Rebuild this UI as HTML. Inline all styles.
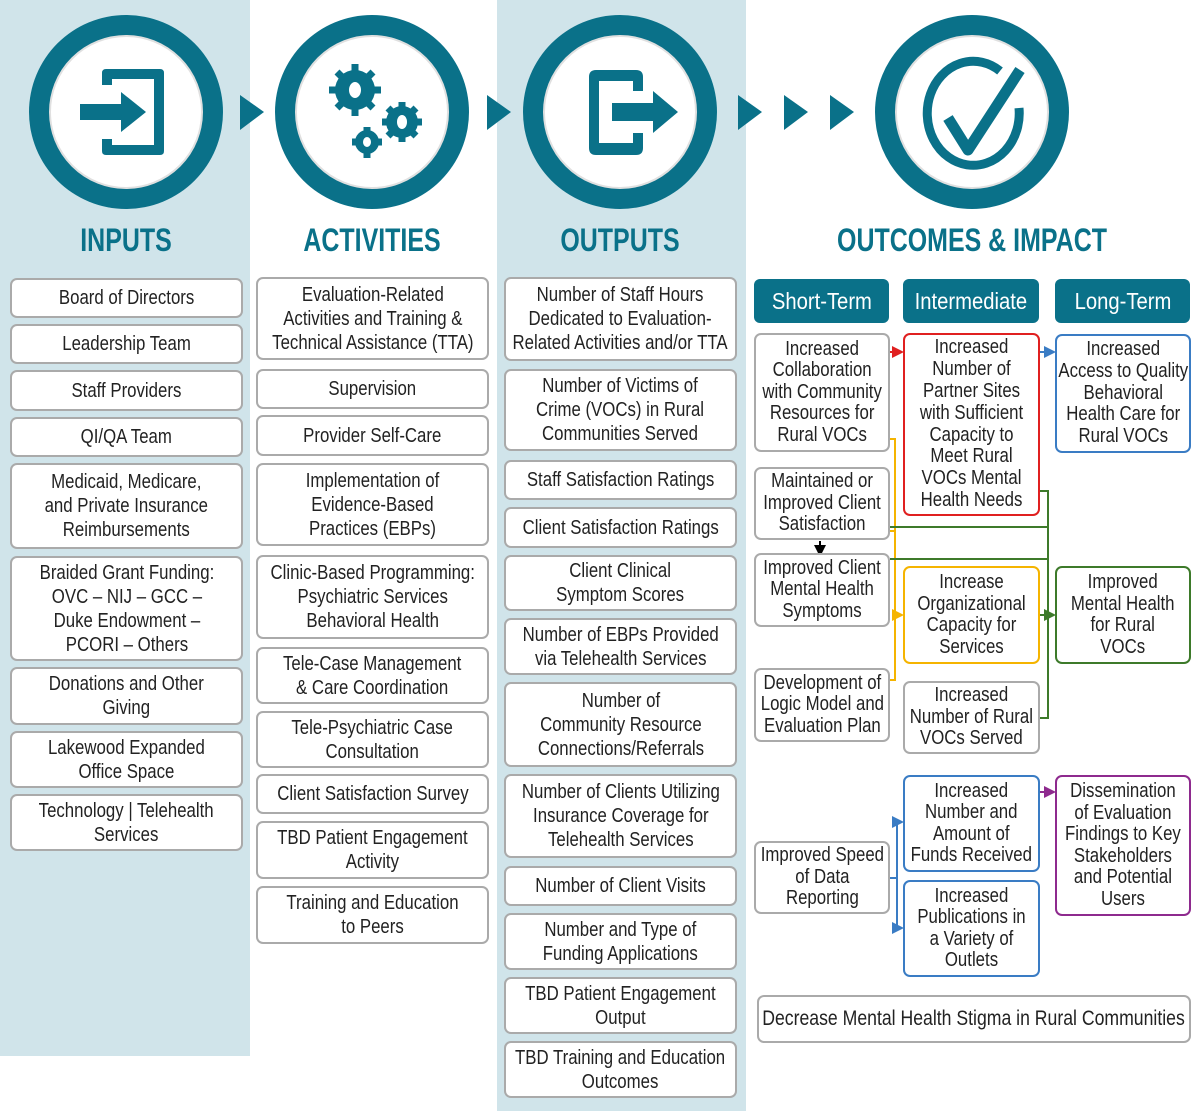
<!DOCTYPE html>
<html><head><meta charset="utf-8"><style>
*{box-sizing:border-box;margin:0;padding:0}
body{width:1200px;height:1111px;position:relative;background:#fff;overflow:hidden;font-family:"Liberation Sans",sans-serif;color:#222}
.bg{position:absolute;background:#d0e4ea}
.b{position:absolute;border:2px solid #aaa;border-radius:7px;background:#fff;display:flex;align-items:center;justify-content:center;text-align:center;font-size:20px;line-height:24px}
.b span,.h span{display:inline-block;transform:scaleX(.84);white-space:nowrap;flex-shrink:0}
.h{position:absolute;background:#0a7189;color:#fff;border-radius:6px;display:flex;align-items:center;justify-content:center;font-size:23px}
.h span{transform:scaleX(.88)}
.t{position:absolute;color:#0a7189;font-size:32px;font-weight:bold;text-align:center;top:222px;transform:scaleX(.78);white-space:nowrap}
svg{position:absolute;left:0;top:0}
</style></head><body>
<div class="bg" style="left:0;top:0;width:250px;height:1056px"></div>
<div class="bg" style="left:497px;top:0;width:249px;height:1111px"></div>

<svg width="1200" height="270">
<g fill="#0a7189">
<circle cx="126" cy="112" r="97"/><circle cx="372" cy="112" r="97"/><circle cx="620" cy="112" r="97"/><circle cx="972" cy="112" r="97"/>
<polygon points="240,95 264,112 240,130"/><polygon points="487,95 511,112 487,130"/>
<polygon points="738,95 762,112 738,130"/><polygon points="784,95 808,112 784,130"/><polygon points="830,95 854,112 830,130"/>
</g>
<g fill="#fff" stroke="#e0e0e0" stroke-width="2">
<circle cx="126" cy="112" r="76"/><circle cx="372" cy="112" r="76"/><circle cx="620" cy="112" r="76"/><circle cx="972" cy="112" r="76"/>
</g>
<path d="M102 85 V73 Q102 69 106 69 H160 Q164 69 164 73 V151 Q164 155 160 155 H106 Q102 155 102 151 V139 H112 V145 H154 V79 H112 V85Z" fill="#0a7189"/>
<path d="M80 104 H121 V92 L146 112 L121 132 V120 H80Z" fill="#0a7189"/>
<g fill="#0a7189">
<circle cx="355" cy="90" r="20"/><circle cx="402" cy="122" r="16"/><circle cx="367" cy="142" r="12"/>
<g stroke="#0a7189" stroke-width="7">
<line x1="355" y1="64" x2="355" y2="116"/><line x1="329" y1="90" x2="381" y2="90"/><line x1="337" y1="72" x2="373" y2="108"/><line x1="373" y1="72" x2="337" y2="108"/>
<line x1="402" y1="102" x2="402" y2="142"/><line x1="382" y1="122" x2="422" y2="122"/><line x1="388" y1="108" x2="416" y2="136"/><line x1="416" y1="108" x2="388" y2="136"/>
<line x1="367" y1="127" x2="367" y2="158"/><line x1="352" y1="142" x2="382" y2="142"/>
</g></g>
<g fill="#fff"><ellipse cx="355" cy="90" rx="6" ry="8"/><ellipse cx="402" cy="122" rx="5" ry="7"/><ellipse cx="367" cy="142" rx="4" ry="5"/></g>
<path d="M643 91 V77 Q643 70 636 70 H596 Q589 70 589 77 V148 Q589 155 596 155 H636 Q643 155 643 148 V133 H633 V143 H599 V81 H633 V91Z" fill="#0a7189"/>
<path d="M612 103 H653 V91 L678 112 L653 133 V121 H612Z" fill="#0a7189"/>
<path d="M1000 71 A46 52 0 1 0 1019 108" fill="none" stroke="#0a7189" stroke-width="9"/>
<path d="M948 118 L968 150 L1020 70" fill="none" stroke="#0a7189" stroke-width="11" stroke-linejoin="round"/>
</svg>

<div class="t" style="left:36px;width:180px">INPUTS</div>
<div class="t" style="left:272px;width:200px">ACTIVITIES</div>
<div class="t" style="left:530px;width:180px">OUTPUTS</div>
<div class="t" style="left:772px;width:400px">OUTCOMES &amp; IMPACT</div>

<div class="b" style="left:10px;top:278px;width:233px;height:40px"><span>Board of Directors</span></div>
<div class="b" style="left:10px;top:324px;width:233px;height:40px"><span>Leadership Team</span></div>
<div class="b" style="left:10px;top:370px;width:233px;height:41px"><span>Staff Providers</span></div>
<div class="b" style="left:10px;top:417px;width:233px;height:40px"><span>QI/QA Team</span></div>
<div class="b" style="left:10px;top:463px;width:233px;height:86px"><span>Medicaid, Medicare,<br>and Private Insurance<br>Reimbursements</span></div>
<div class="b" style="left:10px;top:556px;width:233px;height:105px"><span>Braided Grant Funding:<br>OVC – NIJ – GCC –<br>Duke Endowment –<br>PCORI – Others</span></div>
<div class="b" style="left:10px;top:667px;width:233px;height:58px"><span>Donations and Other<br>Giving</span></div>
<div class="b" style="left:10px;top:731px;width:233px;height:57px"><span>Lakewood Expanded<br>Office Space</span></div>
<div class="b" style="left:10px;top:794px;width:233px;height:57px"><span>Technology | Telehealth<br>Services</span></div>

<div class="b" style="left:256px;top:277px;width:233px;height:83px"><span>Evaluation-Related<br>Activities and Training &amp;<br>Technical Assistance (TTA)</span></div>
<div class="b" style="left:256px;top:369px;width:233px;height:40px"><span>Supervision</span></div>
<div class="b" style="left:256px;top:415px;width:233px;height:41px"><span>Provider Self-Care</span></div>
<div class="b" style="left:256px;top:463px;width:233px;height:83px"><span>Implementation of<br>Evidence-Based<br>Practices (EBPs)</span></div>
<div class="b" style="left:256px;top:555px;width:233px;height:84px"><span>Clinic-Based Programming:<br>Psychiatric Services<br>Behavioral Health</span></div>
<div class="b" style="left:256px;top:647px;width:233px;height:57px"><span>Tele-Case Management<br>&amp; Care Coordination</span></div>
<div class="b" style="left:256px;top:711px;width:233px;height:57px"><span>Tele-Psychiatric Case<br>Consultation</span></div>
<div class="b" style="left:256px;top:774px;width:233px;height:40px"><span>Client Satisfaction Survey</span></div>
<div class="b" style="left:256px;top:821px;width:233px;height:58px"><span>TBD Patient Engagement<br>Activity</span></div>
<div class="b" style="left:256px;top:886px;width:233px;height:58px"><span>Training and Education<br>to Peers</span></div>

<div class="b" style="left:504px;top:277px;width:233px;height:84px"><span>Number of Staff Hours<br>Dedicated to Evaluation-<br>Related Activities and/or TTA</span></div>
<div class="b" style="left:504px;top:369px;width:233px;height:82px"><span>Number of Victims of<br>Crime (VOCs) in Rural<br>Communities Served</span></div>
<div class="b" style="left:504px;top:460px;width:233px;height:40px"><span>Staff Satisfaction Ratings</span></div>
<div class="b" style="left:504px;top:507px;width:233px;height:41px"><span>Client Satisfaction Ratings</span></div>
<div class="b" style="left:504px;top:555px;width:233px;height:56px"><span>Client Clinical<br>Symptom Scores</span></div>
<div class="b" style="left:504px;top:618px;width:233px;height:57px"><span>Number of EBPs Provided<br>via Telehealth Services</span></div>
<div class="b" style="left:504px;top:682px;width:233px;height:85px"><span>Number of<br>Community Resource<br>Connections/Referrals</span></div>
<div class="b" style="left:504px;top:774px;width:233px;height:84px"><span>Number of Clients Utilizing<br>Insurance Coverage for<br>Telehealth Services</span></div>
<div class="b" style="left:504px;top:866px;width:233px;height:40px"><span>Number of Client Visits</span></div>
<div class="b" style="left:504px;top:913px;width:233px;height:57px"><span>Number and Type of<br>Funding Applications</span></div>
<div class="b" style="left:504px;top:977px;width:233px;height:57px"><span>TBD Patient Engagement<br>Output</span></div>
<div class="b" style="left:504px;top:1041px;width:233px;height:57px"><span>TBD Training and Education<br>Outcomes</span></div>

<div class="h" style="left:754px;top:279px;width:135px;height:44px"><span>Short-Term</span></div>
<div class="h" style="left:903px;top:279px;width:136px;height:44px"><span>Intermediate</span></div>
<div class="h" style="left:1055px;top:279px;width:135px;height:44px"><span>Long-Term</span></div>

<svg width="1200" height="1111">
<defs>
<marker id="ar" markerWidth="6" markerHeight="6" refX="5" refY="3" orient="auto"><path d="M0 0 L6 3 L0 6Z" fill="#e02020"/></marker>
<marker id="ab" markerWidth="6" markerHeight="6" refX="5" refY="3" orient="auto"><path d="M0 0 L6 3 L0 6Z" fill="#3a7cc4"/></marker>
<marker id="ao" markerWidth="6" markerHeight="6" refX="5" refY="3" orient="auto"><path d="M0 0 L6 3 L0 6Z" fill="#f5b400"/></marker>
<marker id="ag" markerWidth="6" markerHeight="6" refX="5" refY="3" orient="auto"><path d="M0 0 L6 3 L0 6Z" fill="#3d7a2a"/></marker>
<marker id="ap" markerWidth="6" markerHeight="6" refX="5" refY="3" orient="auto"><path d="M0 0 L6 3 L0 6Z" fill="#8e2a8e"/></marker>
<marker id="ak" markerWidth="6" markerHeight="6" refX="5" refY="3" orient="auto"><path d="M0 0 L6 3 L0 6Z" fill="#000"/></marker>
</defs>
<g fill="none" stroke-width="2">
<path d="M890 352 H902" stroke="#e02020" marker-end="url(#ar)"/>
<path d="M1040 352 H1054" stroke="#3a7cc4" marker-end="url(#ab)"/>
<path d="M890 439 H895 V680 H890 M890 531 H895 M895 615 H902" stroke="#f5b400"/>
<path d="M895 615 H902" stroke="#f5b400" marker-end="url(#ao)"/>
<path d="M1040 491 H1048 V718 H1040 M890 527 H1048 M890 559 H1048 M1040 615 H1054" stroke="#3d7a2a"/>
<path d="M1040 615 H1054" stroke="#3d7a2a" marker-end="url(#ag)"/>
<path d="M820 541 V555" stroke="#000" marker-end="url(#ak)"/>
<path d="M890 878 H897 V928 M897 822 V878" stroke="#3a7cc4"/>
<path d="M897 822 H902" stroke="#3a7cc4" marker-end="url(#ab)"/>
<path d="M897 928 H902" stroke="#3a7cc4" marker-end="url(#ab)"/>
<path d="M1040 792 H1054" stroke="#8e2a8e" marker-end="url(#ap)"/>
</g>
</svg>

<div class="b" style="left:754px;top:333px;width:136px;height:119px;line-height:21.5px"><span>Increased<br>Collaboration<br>with Community<br>Resources for<br>Rural VOCs</span></div>
<div class="b" style="left:754px;top:467px;width:136px;height:73px;line-height:21.5px"><span>Maintained or<br>Improved Client<br>Satisfaction</span></div>
<div class="b" style="left:754px;top:553px;width:136px;height:74px;line-height:21.5px"><span>Improved Client<br>Mental Health<br>Symptoms</span></div>
<div class="b" style="left:754px;top:668px;width:136px;height:74px;line-height:21.5px"><span>Development of<br>Logic Model and<br>Evaluation Plan</span></div>
<div class="b" style="left:754px;top:841px;width:136px;height:73px;line-height:21.5px"><span>Improved Speed<br>of Data<br>Reporting</span></div>

<div class="b" style="left:903px;top:333px;width:137px;height:183px;border-color:#e02020;line-height:21.8px"><span>Increased<br>Number of<br>Partner Sites<br>with Sufficient<br>Capacity to<br>Meet Rural<br>VOCs Mental<br>Health Needs</span></div>
<div class="b" style="left:903px;top:566px;width:137px;height:98px;border-color:#f5b400;line-height:21.5px"><span>Increase<br>Organizational<br>Capacity for<br>Services</span></div>
<div class="b" style="left:903px;top:681px;width:137px;height:73px;line-height:21.5px"><span>Increased<br>Number of Rural<br>VOCs Served</span></div>
<div class="b" style="left:903px;top:775px;width:137px;height:97px;border-color:#3a7cc4;line-height:21.5px"><span>Increased<br>Number and<br>Amount of<br>Funds Received</span></div>
<div class="b" style="left:903px;top:880px;width:137px;height:97px;border-color:#3a7cc4;line-height:21.5px"><span>Increased<br>Publications in<br>a Variety of<br>Outlets</span></div>

<div class="b" style="left:1055px;top:334px;width:136px;height:119px;border-color:#3a7cc4;line-height:21.8px"><span>Increased<br>Access to Quality<br>Behavioral<br>Health Care for<br>Rural VOCs</span></div>
<div class="b" style="left:1055px;top:566px;width:136px;height:98px;border-color:#3d7a2a;line-height:21.5px"><span>Improved<br>Mental Health<br>for Rural<br>VOCs</span></div>
<div class="b" style="left:1055px;top:775px;width:136px;height:141px;border-color:#8e2a8e;line-height:21.5px"><span>Dissemination<br>of Evaluation<br>Findings to Key<br>Stakeholders<br>and Potential<br>Users</span></div>

<div class="b" style="left:757px;top:995px;width:434px;height:48px;font-size:21px"><span>Decrease Mental Health Stigma in Rural Communities</span></div>
</body></html>
